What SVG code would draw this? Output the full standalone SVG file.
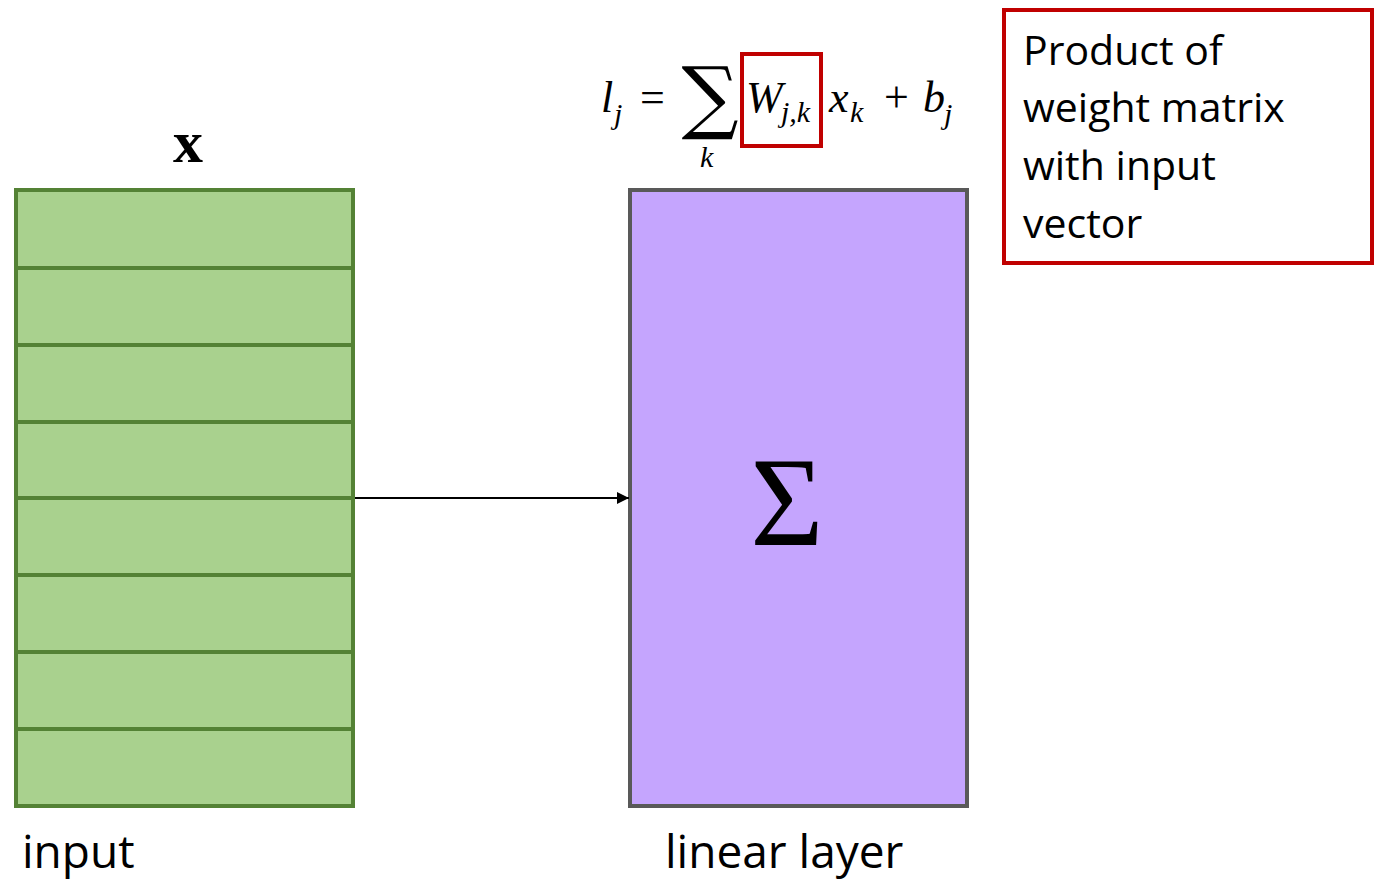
<svg xmlns="http://www.w3.org/2000/svg" width="1375" height="879" viewBox="0 0 1375 879">
<defs>
<style>
.lbl{font-family:"Open Sans","Noto Sans",sans-serif;font-size:46px;fill:#000}
.note{font-family:"Open Sans","Noto Sans",sans-serif;font-size:41px;fill:#000}
.m{font-family:"Liberation Serif","DejaVu Serif",serif;font-style:italic;font-size:44px;fill:#000}
.ms{font-family:"Liberation Serif","DejaVu Serif",serif;font-style:italic;font-size:30px;fill:#000}
.mu{font-family:"Liberation Serif","DejaVu Serif",serif;font-size:44px;fill:#000}
.row{stroke:#548235;stroke-width:4}
</style>
<marker id="arr" viewBox="0 0 10 10" refX="10" refY="5" markerWidth="6" markerHeight="6" orient="auto" markerUnits="strokeWidth"><path d="M0,0 L10,5 L0,10 z" fill="#000"/></marker>
</defs>
<rect width="1375" height="879" fill="#fff"/>
<g id="input-vector">
<rect x="16" y="190" width="337" height="616" fill="#a9d18e" stroke="#548235" stroke-width="4"/>
<line class="row" x1="16" y1="268" x2="353" y2="268"/>
<line class="row" x1="16" y1="345" x2="353" y2="345"/>
<line class="row" x1="16" y1="422" x2="353" y2="422"/>
<line class="row" x1="16" y1="498" x2="353" y2="498"/>
<line class="row" x1="16" y1="575" x2="353" y2="575"/>
<line class="row" x1="16" y1="652" x2="353" y2="652"/>
<line class="row" x1="16" y1="729" x2="353" y2="729"/>
<text x="188" y="162" text-anchor="middle" style="font-family:'Liberation Serif','DejaVu Serif',serif;font-weight:bold;font-size:60px">x</text>
<text class="lbl" x="22" y="868">input</text>
</g>
<g id="linear-layer">
<rect x="630" y="190" width="337" height="616" fill="#c5a5fe" stroke="#595959" stroke-width="4"/>
<text x="787" y="545" text-anchor="middle" style="font-family:'Liberation Serif','DejaVu Serif',serif;font-size:126px">Σ</text>
<text class="lbl" x="665" y="868">linear layer</text>
</g>
<g id="formula">
<text class="m" x="601" y="112">l</text>
<text class="ms" x="614" y="124">j</text>
<text class="mu" x="640" y="112">=</text>
<text x="710" y="124" text-anchor="middle" style="font-family:'DejaVu Serif',serif;font-size:80px">∑</text>
<text class="ms" x="700" y="167">k</text>
<text class="m" x="746" y="112">W</text>
<text class="ms" x="781" y="122">j,k</text>
<text class="m" x="829" y="112">x</text>
<text class="ms" x="850" y="122">k</text>
<text class="mu" x="884" y="112">+</text>
<text class="m" x="923" y="112">b</text>
<text class="ms" x="944" y="124">j</text>
<rect x="742" y="54" width="79" height="92" fill="none" stroke="#c00000" stroke-width="4"/>
</g>
<g id="note">
<rect x="1004" y="10" width="368" height="253" fill="#fff" stroke="#c00000" stroke-width="4"/>
<text class="note" x="1023" y="65">Product of</text>
<text class="note" x="1023" y="122">weight matrix</text>
<text class="note" x="1023" y="180">with input</text>
<text class="note" x="1023" y="238">vector</text>
</g>
<g id="connectors">
<line x1="355" y1="498" x2="629" y2="498" stroke="#000" stroke-width="2" marker-end="url(#arr)"/>
</g>
</svg>
